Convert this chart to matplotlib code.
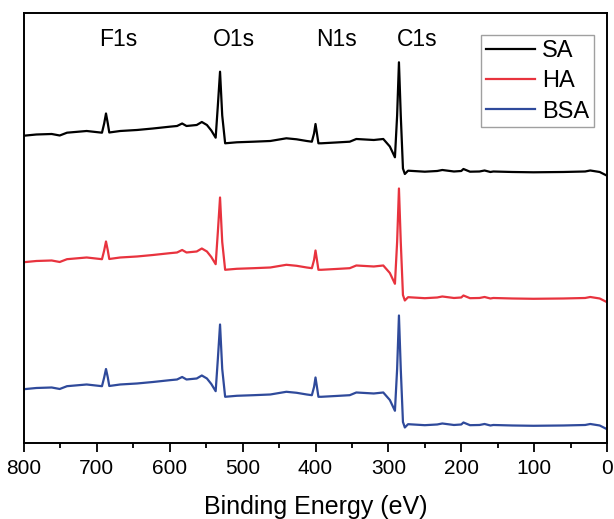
import matplotlib
matplotlib.use("Agg")
import matplotlib.pyplot as plt
from matplotlib.ticker import MultipleLocator

plt.rcParams['font.family'] = ['Liberation Sans', 'DejaVu Sans']

# Binding energy (eV), shared by all spectra
energy_ev = [800, 783, 762, 751, 741, 714, 693, 690, 687.5, 685, 683, 668, 645, 623,
             600, 590, 583, 577, 563, 556, 549, 543, 537, 534, 531, 528, 524, 508,
             485, 462, 440, 426, 412, 405, 402, 400, 398, 396, 392, 372, 353, 344,
             320, 307, 298, 291, 288, 285.5, 283, 280, 277.4, 273, 250, 233, 226,
             210, 200, 197, 188, 175, 168, 160, 156, 130, 101, 60, 30, 23, 10, 0]

# Intensities (a.u., stacked)
sa = [307.8, 309.0, 309.5, 308.0, 310.8, 312.5, 310.8, 320.0, 330.0, 320.0, 311.0, 312.5,
      313.5, 315.0, 316.8, 317.5, 320.0, 317.5, 318.5, 321.5, 318.5, 313.0, 305.8, 338.0,
      371.8, 328.0, 300.2, 301.2, 301.8, 302.5, 305.2, 304.2, 302.5, 301.8, 310.0, 319.5,
      310.0, 300.2, 300.2, 301.0, 301.8, 304.5, 303.5, 304.5, 297.0, 286.2, 328.0, 381.2,
      328.0, 275.0, 269.5, 272.8, 271.8, 272.5, 273.5, 272.0, 272.5, 274.5, 271.8, 272.0,
      273.0, 271.5, 272.0, 271.5, 271.2, 271.5, 272.0, 273.0, 271.5, 267.8]

ha = [181.3, 182.5, 183.0, 181.5, 184.3, 186.0, 184.3, 193.0, 202.0, 193.0, 184.5, 186.0,
      187.0, 188.5, 190.3, 191.0, 193.5, 191.0, 192.0, 195.0, 192.0, 186.5, 179.3, 211.5,
      246.0, 201.5, 173.7, 174.7, 175.3, 176.0, 178.7, 177.7, 176.0, 175.3, 183.5, 193.0,
      183.5, 173.7, 173.7, 174.5, 175.3, 178.0, 177.0, 178.0, 170.5, 159.7, 201.5, 255.0,
      201.5, 148.5, 143.0, 146.3, 145.3, 146.0, 147.0, 145.5, 146.0, 148.0, 145.3, 145.5,
      146.5, 145.0, 145.5, 145.0, 144.7, 145.0, 145.5, 146.5, 145.0, 141.3]

bsa = [54.3, 55.5, 56.0, 54.5, 57.3, 59.0, 57.3, 66.0, 74.5, 66.0, 57.5, 59.0,
       60.0, 61.5, 63.3, 64.0, 66.5, 64.0, 65.0, 68.0, 65.0, 59.5, 52.3, 84.5,
       119.0, 74.5, 46.7, 47.7, 48.3, 49.0, 51.7, 50.7, 49.0, 48.3, 56.5, 66.0,
       56.5, 46.7, 46.7, 47.5, 48.3, 51.0, 50.0, 51.0, 43.5, 32.7, 74.5, 128.0,
       74.5, 21.5, 16.0, 19.3, 18.3, 19.0, 20.0, 18.5, 19.0, 21.0, 18.3, 18.5,
       19.5, 18.0, 18.5, 18.0, 17.7, 18.0, 18.5, 19.5, 18.0, 14.3]

series_names = ["SA", "HA", "BSA"]
series_colors = ["#000000", "#e8333e", "#2f4a9b"]

peak_labels = ["F1s", "O1s", "N1s", "C1s"]
peak_label_ev = [670.6, 511.6, 371.3, 260.8]
peak_label_y = 403.5

fig = plt.figure(figsize=(6.14, 5.19), dpi=100)
ax = fig.add_axes([0.0391, 0.1455, 0.9495, 0.8285])

for data, name, col in zip([sa, ha, bsa], series_names, series_colors):
    ax.plot(energy_ev, data, color=col, lw=1.6, label=name, solid_joinstyle='round')

ax.set_xlim(800, 0)
ax.set_ylim(0, 430)
ax.set_yticks([])
ax.xaxis.set_major_locator(MultipleLocator(100))
ax.xaxis.set_minor_locator(MultipleLocator(50))
ax.tick_params(axis='x', which='major', direction='out', length=6.5, width=1.3,
               labelsize=15, pad=5, colors='black')
ax.tick_params(axis='x', which='minor', direction='out', length=3.5, width=1.3)
for sp in ax.spines.values():
    sp.set_linewidth(1.4)

ax.set_xlabel("Binding Energy (eV)", fontsize=18, labelpad=12)

for lab, ev in zip(peak_labels, peak_label_ev):
    ax.text(ev, peak_label_y, lab, fontsize=16.5, ha='center', va='center')

leg = ax.legend(loc='upper right', bbox_to_anchor=(0.978, 0.949), fontsize=17,
                frameon=True, fancybox=False, edgecolor='#888888',
                handlelength=2.1, handletextpad=0.3, borderpad=0.2,
                labelspacing=0.35, borderaxespad=0)
leg.get_frame().set_linewidth(1.0)

fig.savefig("out.png", dpi=100)
